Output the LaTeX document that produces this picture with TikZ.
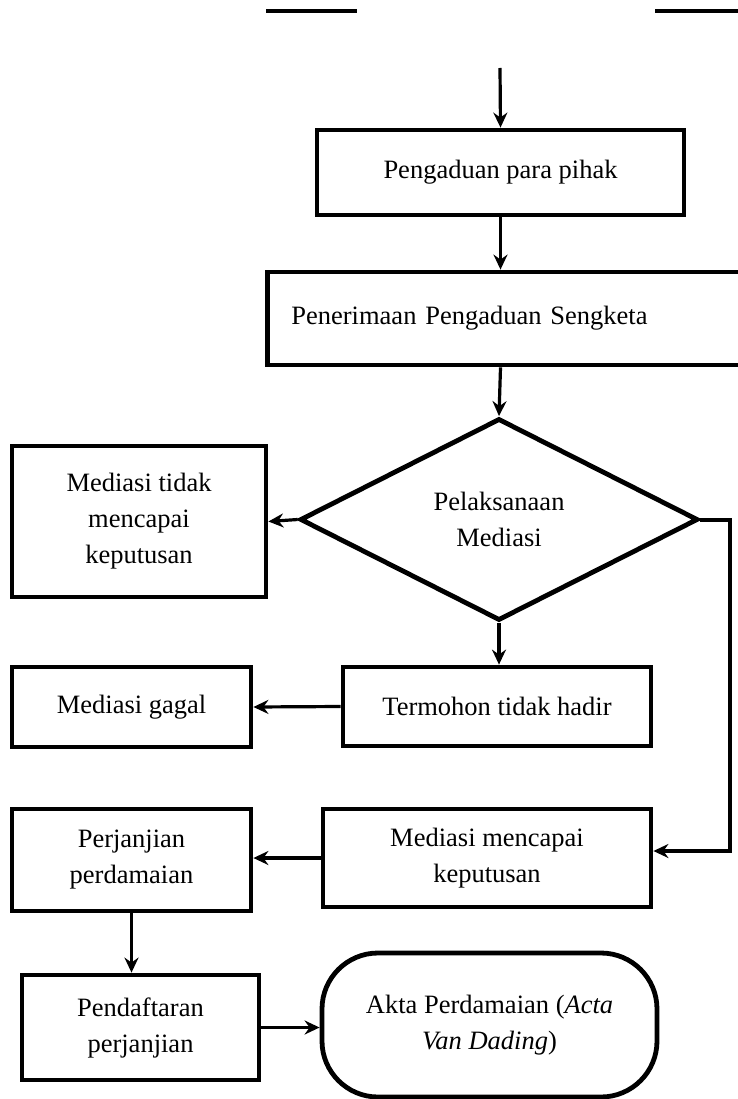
\documentclass[tikz,border=0pt]{standalone}
\usepackage{fontspec}
\setmainfont{Liberation Serif}
\usetikzlibrary{shapes.geometric,arrows.meta}

\begin{document}
\begin{tikzpicture}[x=1pt,y=-1pt,
        font=\fontsize{26.5}{36}\selectfont,
        prosesbox/.style={draw,line width=4.8pt,align=center,inner sep=0pt},
        keputusan/.style={draw,diamond,line width=4.8pt,align=center,inner sep=0pt,
            minimum width=398pt,minimum height=202pt},
        akhir/.style={draw,line width=4.8pt,rounded corners=56pt,align=center,inner sep=0pt},
        panah/.style={line width=3.2pt,-{Stealth[length=15pt,width=14pt,inset=5pt]}}]
        \useasboundingbox (0,0) rectangle (738,1099);
        \fill[white] (0,0) rectangle (738,1099);

        % garis di atas
        \draw[line width=3.5pt] (266,11) -- (357,11);
        \draw[line width=3.5pt] (655,11) -- (745,11);

        \coordinate (mulai) at (500,68);
        \node[prosesbox,minimum width=367pt,minimum height=85pt] (pengaduan) at (500.5,172.5) {Pengaduan para pihak};
        \node[prosesbox,anchor=west,text width=456pt,align=left,inner xsep=24pt,minimum height=93pt] (penerimaan) at (265,318.5) {Penerimaan Pengaduan Sengketa};

        \node[keputusan] (pelaksanaan) at (499,519.5) {Pelaksanaan\\Mediasi};
        \node[prosesbox,minimum width=254pt,minimum height=151pt] (tidakcapai) at (139,521.5) {Mediasi tidak\\mencapai\\keputusan};

        \node[prosesbox,minimum width=308pt,minimum height=79pt] (termohon) at (497,706.5) {Termohon tidak hadir};
        \node[prosesbox,minimum width=239pt,minimum height=80pt] (gagal) at (131.5,707) {Mediasi gagal};

        \node[prosesbox,minimum width=328pt,minimum height=98pt] (mencapai) at (487,858) {Mediasi mencapai\\keputusan};
        \node[prosesbox,minimum width=239pt,minimum height=102pt] (perjanjian) at (131.5,860) {Perjanjian\\perdamaian};

        \node[prosesbox,minimum width=237pt,minimum height=105pt] (pendaftaran) at (140.5,1027.5) {Pendaftaran\\perjanjian};
        \node[akhir,minimum width=335pt,minimum height=144pt] (akta) at (489.5,1025) {Akta Perdamaian (\textit{Acta}\\\textit{Van Dading})};

        \coordinate (belok) at (730,851);

        \draw[panah] (mulai) -- (pengaduan.north);
        \draw[panah] (pengaduan.south) -- (pengaduan.south |- penerimaan.north);
        \draw[panah] (pengaduan.south |- penerimaan.south) -- (pelaksanaan.north);
        \draw[panah] (pelaksanaan.west) -- (tidakcapai.east);
        \draw[panah] (pelaksanaan.south) -- (pelaksanaan.south |- termohon.north);
        \draw[panah] (termohon.west) -- (gagal.east);
        \draw[panah,line width=4pt] (pelaksanaan.east) -| (belok) -- (belok -| mencapai.east);
        \draw[panah] (mencapai.west) -- (mencapai.west -| perjanjian.east);
        \draw[panah] (perjanjian.south) -- (perjanjian.south |- pendaftaran.north);
        \draw[panah] (pendaftaran.east) -- (pendaftaran.east -| akta.west);
    \end{tikzpicture}
\end{document}
